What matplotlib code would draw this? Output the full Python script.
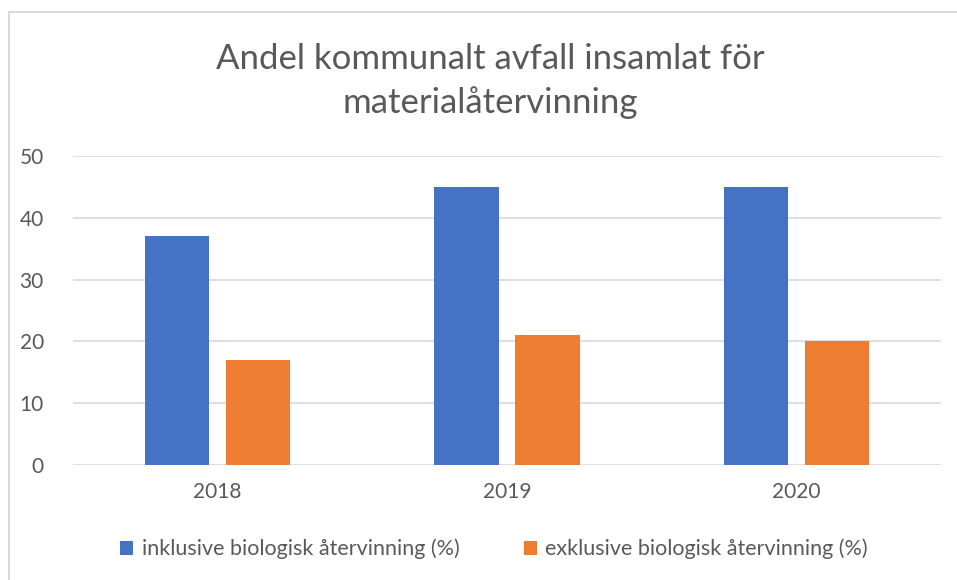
import numpy as np
import matplotlib.pyplot as plt
from matplotlib.patches import Rectangle

years = ['2018', '2019', '2020']
inkl = [37, 45, 45]
exkl = [17, 21, 20]
labels = ['inklusive biologisk återvinning (%)', 'exklusive biologisk återvinning (%)']
title = 'Andel kommunalt avfall insamlat för\nmaterialåtervinning'

plt.rcParams['font.family'] = ['Lato', 'DejaVu Sans']
txt = '#595959'

fig = plt.figure(figsize=(9.57, 5.8), dpi=100)
W, H = 957, 580

# chart border (only left and top visible in reference)
fig.add_artist(Rectangle((9 / W, -0.1), 1.2, (H - 12) / H + 0.1, transform=fig.transFigure,
                         fill=False, edgecolor='#d9d9d9', linewidth=1.5))

ax = fig.add_axes([73 / W, 1 - 465 / H, (941 - 73) / W, (465 - 156) / H])
x = np.arange(len(years))
w = 0.222
off = 0.14
ax.bar(x - off, inkl, w, color='#4472c4', label=labels[0], zorder=3)
ax.bar(x + off, exkl, w, color='#ed7d31', label=labels[1], zorder=3)

ax.set_xlim(-0.5, 2.5)
ax.set_ylim(0, 50)
ax.set_yticks(range(0, 51, 10))
ax.set_xticks(x)
ax.set_xticklabels(years)
ax.grid(axis='y', color='#d9d9d9', linewidth=1.2, zorder=0)
for s in ax.spines.values():
    s.set_visible(False)
ax.tick_params(length=0, labelsize=15, colors=txt)
ax.tick_params(axis='x', pad=12)
ax.tick_params(axis='y', pad=21)

fig.text(490 / W, 1 - 81 / H, title, ha='center', va='center', fontsize=25,
         color=txt, linespacing=1.4)

leg = fig.legend(loc='center', bbox_to_anchor=(494 / W, 1 - 549 / H), ncol=2,
                 frameon=False, fontsize=15.5, handlelength=0.6, handleheight=0.6,
                 handletextpad=0.4, columnspacing=3.0, labelcolor=txt)

fig.savefig('out.png', dpi=100)
